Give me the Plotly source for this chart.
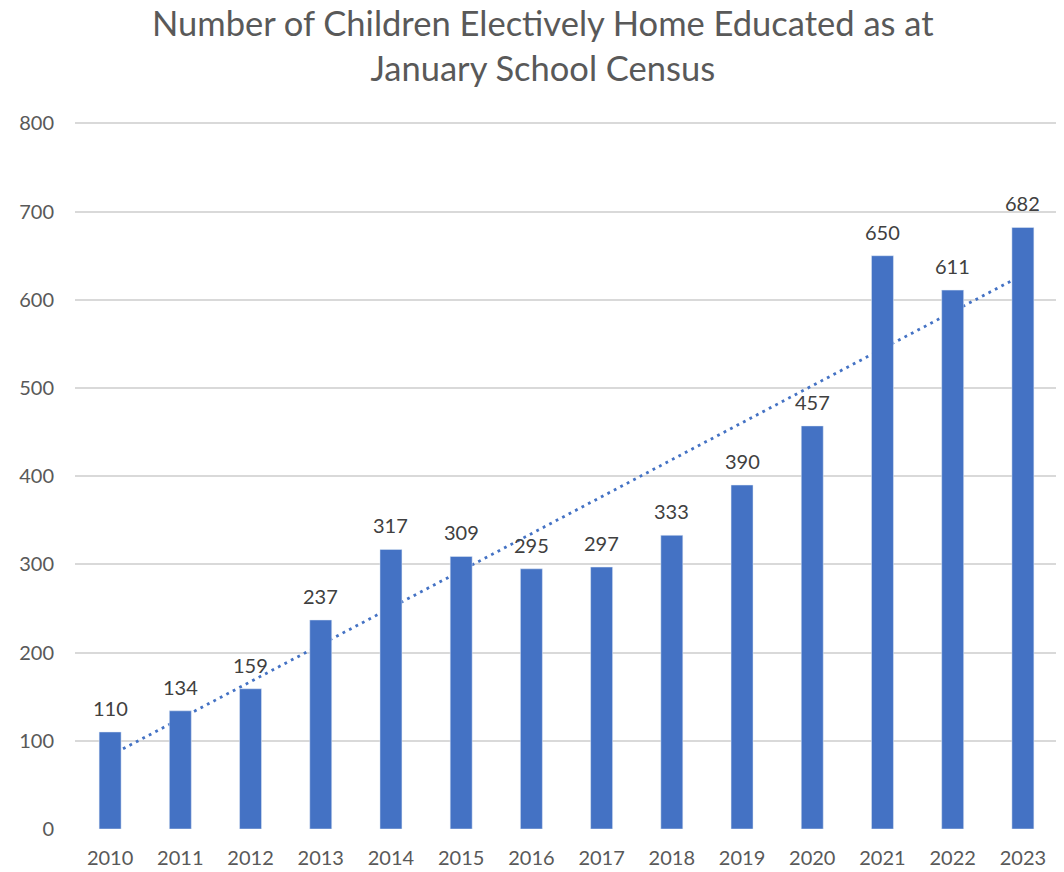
import numpy as np
import plotly.graph_objects as go

years = ["2010", "2011", "2012", "2013", "2014", "2015", "2016",
         "2017", "2018", "2019", "2020", "2021", "2022", "2023"]
children = [110, 134, 159, 237, 317, 309, 295, 297, 333, 390, 457, 650, 611, 682]
y_ticks = [0, 100, 200, 300, 400, 500, 600, 700, 800]

# linear trendline, like the Excel one
idx = np.arange(len(children))
slope, intercept = np.polyfit(idx, children, 1)
trend = slope * idx + intercept

fig = go.Figure()

fig.add_trace(go.Scatter(
    x=years, y=trend, mode="lines",
    line=dict(color="#4472C4", width=2.8, dash="2.8px,4.5px"),
    hoverinfo="skip", zorder=0,
))

fig.add_trace(go.Bar(
    x=years, y=children,
    marker=dict(color="#4472C4"),
    hoverinfo="x+y", zorder=1,
))

# data labels above bars (category index, since the names look numeric)
for i, v in enumerate(children):
    fig.add_annotation(
        x=i, y=v, text=str(v), showarrow=False,
        yanchor="bottom", yshift=10,
        font=dict(family="Lato", size=20, color="#404040"),
    )

# title
fig.add_annotation(
    text="Number of Children Electively Home Educated as at<br>January School Census",
    xref="paper", yref="paper", x=0.476, y=1.0, yanchor="middle", xanchor="center",
    yshift=74, showarrow=False,
    font=dict(family="Lato", size=34.5, color="#595959"),
)

# page body has an 8px margin, so the figure is sized to fit inside the window
fig.update_layout(
    width=1056, height=864,
    paper_bgcolor="white", plot_bgcolor="white",
    showlegend=False,
    bargap=0.687,
    margin=dict(l=67, r=6, t=111, b=43),
    font=dict(family="Lato", color="#595959"),
)

fig.update_xaxes(
    type="category", range=[-0.5, len(years) - 0.5],
    showgrid=False, showline=True, linecolor="#D9D9D9", linewidth=1.5,
    tickfont=dict(size=20, color="#595959"),
    ticks="", ticklabelstandoff=10, automargin=False,
)
fig.update_yaxes(
    range=[0, 805], tickvals=y_ticks,
    showgrid=True, gridcolor="#D9D9D9", gridwidth=1.5,
    zeroline=False, showline=False,
    tickfont=dict(size=20, color="#595959"),
    ticks="", ticklabelstandoff=20, automargin=False,
)

fig.write_html("out.html")
